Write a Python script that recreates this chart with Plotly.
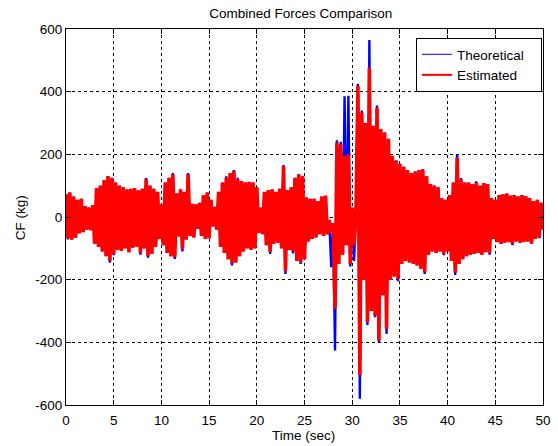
import numpy as np
import plotly.graph_objects as go

# sampling interval of the digitised peaks (seconds)
sample_interval = 0.2

# Estimated combined force peaks (kg), one value every 0.2 s from 0 to 50 s
estimated = [
    72, -68, 78, -72, 65, -66, 55, -52, 58, -48,
    35, -40, 30, -42, 38, -85, 92, -95, 100, -110,
    118, -125, 131, -140, 125, -118, 110, -105, 100, -108,
    95, -100, 88, -112, 90, -98, 92, -95, 85, -115,
    90, -100, 120, -124, 100, -118, 90, -95, 80, -70,
    40, -90, 110, -115, 125, -125, 136, -129, 75, -62,
    88, -103, 80, -72, 136, -60, 42, -65, 40, -38,
    45, -60, 70, -70, 78, -68, 55, -30, 32, -40,
    80, -95, 110, -115, 125, -135, 140, -148, 147, -145,
    120, -125, 115, -110, 110, -100, 112, -105, 110, -100,
    95, -50, 30, -55, 80, -90, 85, -112, 88, -85,
    80, -82, 90, -100, 163, -172, 85, -105, 95, -110,
    125, -140, 136, -145, 130, -135, 62, -78, 58, -70,
    58, -65, 50, -55, 65, -60, 68, -55, -10, -50,
    -20, -293, 238, -150, 232, -120, 195, -90, 200, -150,
    30, -90, 20, 418, -505, 333, -200, 300, -335, 477,
    -300, 291, -314, 349, -394, 280, -250, 270, -357, 250,
    -200, 195, -190, 180, -198, 170, -150, 160, -140, 150,
    -145, 140, -150, 145, -155, 150, -165, 152, -176, 130,
    -120, 105, -110, 100, -115, 95, -110, 60, -118, 55,
    -110, 70, -140, 110, -177, 190, -150, 120, -135, 110,
    -125, 110, -120, 105, -118, 110, -115, 100, -120, 108,
    -112, 105, -115, 60, -70, 55, -80, 70, -86, 72,
    -82, 75, -80, 68, -85, 70, -78, 65, -82, 70,
    -80, 66, -78, 60, -85, 50, -70, 55, -65, 45, -40,
]

# Theoretical combined force peaks (kg), same sampling
theoretical = [
    72, -72, 78, -72, 65, -66, 55, -52, 58, -48,
    35, -40, 30, -42, 38, -85, 92, -95, 100, -110,
    118, -125, 131, -146, 125, -122, 110, -105, 100, -108,
    95, -100, 88, -112, 90, -98, 92, -95, 85, -120,
    90, -100, 124, -130, 100, -118, 90, -95, 80, -70,
    40, -90, 110, -115, 125, -125, 140, -134, 75, -62,
    88, -110, 80, -72, 140, -60, 42, -65, 40, -38,
    45, -60, 70, -70, 78, -68, 55, -30, 32, -40,
    80, -95, 110, -115, 130, -135, 140, -155, 150, -145,
    125, -125, 115, -110, 110, -100, 112, -105, 110, -100,
    95, -50, 30, -55, 80, -90, 85, -118, 88, -85,
    80, -82, 90, -100, 166, -182, 85, -105, 95, -116,
    125, -140, 136, -150, 130, -135, 62, -78, 58, -70,
    58, -65, 50, -55, 65, -60, 68, -55, -10, -160,
    -20, -426, 245, -150, 240, -120, 385, -90, 387, -158,
    30, -140, 20, 425, -580, 340, -200, 300, -345, 565,
    -300, 291, -320, 356, -400, 280, -250, 270, -373, 250,
    -200, 195, -190, 180, -205, 170, -150, 160, -140, 150,
    -145, 140, -150, 145, -155, 150, -165, 152, -182, 130,
    -120, 105, -110, 100, -115, 95, -110, 60, -122, 55,
    -110, 70, -140, 110, -185, 200, -150, 124, -135, 110,
    -125, 110, -120, 105, -118, 114, -115, 100, -120, 108,
    -112, 105, -120, 60, -70, 55, -80, 70, -86, 72,
    -82, 75, -80, 68, -90, 70, -78, 65, -82, 70,
    -80, 66, -78, 60, -85, 50, -70, 55, -68, 45, -40,
]

time_s = np.arange(len(estimated)) * sample_interval

series_names = ["Theoretical", "Estimated"]
x_ticks = [0, 5, 10, 15, 20, 25, 30, 35, 40, 45, 50]
x_tick_labels = ["0", "5", "10", "15", "20", "25", "30", "35", "40", "45", "50"]
y_ticks = [-600, -400, -200, 0, 200, 400, 600]
y_tick_labels = ["-600", "-400", "-200", "0", "200", "400", "600"]

font_family = "Liberation Sans, Arial, sans-serif"
fs = 13.5
blue = "#0000FF"
red = "#FF0000"
legend_pad = "\u00a0\u00a0\u00a0"

fig = go.Figure()
# data traces (dense oscillation drawn with a wider stroke so the band reads solid)
fig.add_trace(go.Scatter(
    x=time_s, y=theoretical, mode="lines", name=series_names[0], showlegend=False,
    line=dict(color=blue, width=2.4, simplify=False),
))
fig.add_trace(go.Scatter(
    x=time_s, y=estimated, mode="lines", name=series_names[1], showlegend=False,
    line=dict(color=red, width=3.6, simplify=False),
))
# legend entries with the original line weights
fig.add_trace(go.Scatter(
    x=[None], y=[None], mode="lines", name=series_names[0] + legend_pad,
    line=dict(color=blue, width=1),
))
fig.add_trace(go.Scatter(
    x=[None], y=[None], mode="lines", name=series_names[1] + legend_pad,
    line=dict(color=red, width=2),
))

axis_common = dict(
    showline=True, linecolor="black", linewidth=1, mirror="ticks",
    ticks="inside", ticklen=5, tickcolor="black", tickwidth=1,
    showgrid=True, gridcolor="black", gridwidth=1, griddash="3px,3px",
    zeroline=False, automargin=False,
    tickfont=dict(family=font_family, size=fs, color="black"),
)

fig.update_xaxes(range=[0, 50], tickvals=x_ticks, ticktext=x_tick_labels,
                 ticklabelstandoff=3, **axis_common)
fig.update_yaxes(range=[-600, 600], tickvals=y_ticks, ticktext=y_tick_labels,
                 **axis_common)

fig.update_layout(
    width=558, height=446,
    margin=dict(l=66, r=15, t=29, b=41, autoexpand=False),
    paper_bgcolor="white", plot_bgcolor="white",
    font=dict(family=font_family, size=fs, color="black"),
    title=dict(text="Combined Forces Comparison", x=0.539, xanchor="center",
               y=0.971, yanchor="middle",
               font=dict(family=font_family, size=fs, color="black")),
    annotations=[
        dict(text="Time (sec)", xref="paper", yref="paper", x=0.498, y=-0.08,
             xanchor="center", yanchor="middle", showarrow=False,
             font=dict(family=font_family, size=fs, color="black")),
        dict(text="CF (kg)", xref="paper", yref="paper", x=-0.0964, y=0.497,
             xanchor="center", yanchor="middle", textangle=-90, showarrow=False,
             font=dict(family=font_family, size=fs, color="black")),
    ],
    showlegend=True,
    legend=dict(x=0.998, xanchor="right", y=0.976, yanchor="top",
                bgcolor="white", bordercolor="black", borderwidth=1,
                font=dict(family=font_family, size=fs, color="black"),
                itemwidth=30, tracegroupgap=0),
)

fig.write_html("out.html", config={"displayModeBar": False},
               post_script="document.body.style.margin='0';")
